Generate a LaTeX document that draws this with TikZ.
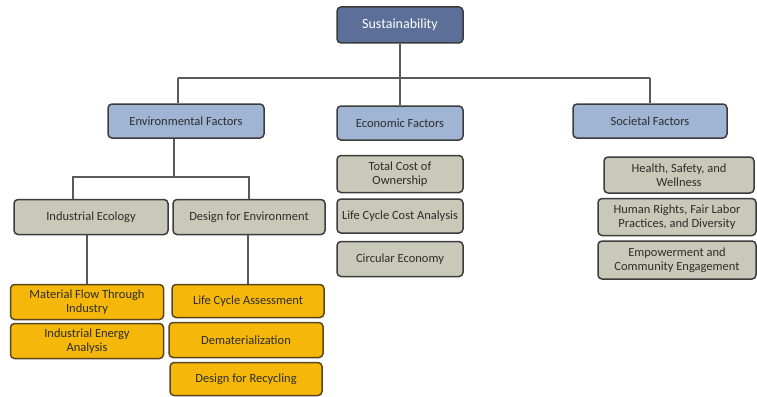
\documentclass[tikz,border=0pt]{standalone}
\usepackage{fontspec}
\setmainfont{Carlito}
\definecolor{rootfill}{RGB}{92,111,153}
\definecolor{catfill}{RGB}{160,180,212}
\definecolor{subfill}{RGB}{200,201,184}
\definecolor{leaffill}{RGB}{244,183,10}
\definecolor{boxline}{RGB}{60,60,60}
\definecolor{leafline}{RGB}{90,70,30}
\definecolor{treeline}{RGB}{90,90,90}
\definecolor{boxtext}{RGB}{45,45,45}
\begin{document}
\begin{tikzpicture}[x=1pt,y=-1pt,
  box/.style={draw=boxline,line width=1.5pt,rounded corners=4pt,align=center,
    inner sep=1pt,text=boxtext,font=\fontsize{12.5}{13.5}\selectfont},
  rootbox/.style={box,fill=rootfill,text=white,font=\fontsize{14}{16}\selectfont},
  catbox/.style={box,fill=catfill},
  subbox/.style={box,fill=subfill},
  leafbox/.style={box,fill=leaffill,draw=leafline},
  tree/.style={draw=treeline,line width=1.8pt}]
   \useasboundingbox (0,0) rectangle (757,396);
   % Top
   \node[rootbox,minimum width=126,minimum height=36] (sus) at (400,25) {Sustainability};
   % Factors
   \node[catbox,minimum width=156,minimum height=34] (env) at (186,121) {Environmental Factors};
   \node[catbox,minimum width=126,minimum height=34] (eco) at (400,123) {Economic Factors};
   \node[catbox,minimum width=154,minimum height=34] (soc) at (650,121) {Societal Factors};
   % Environmental branch
   \node[subbox,minimum width=154,minimum height=35] (ie) at (91,217) {Industrial Ecology};
   \node[subbox,minimum width=152,minimum height=35] (dfe) at (249,217) {Design for Environment};
   \node[leafbox,minimum width=153,minimum height=35] (mft) at (87,302) {Material Flow Through\\Industry};
   \node[leafbox,minimum width=153,minimum height=35] (iea) at (87,341) {Industrial Energy\\Analysis};
   \node[leafbox,minimum width=152,minimum height=33] (lca) at (248,301) {Life Cycle Assessment};
   \node[leafbox,minimum width=154,minimum height=35] (dem) at (246,340) {Dematerialization};
   \node[leafbox,minimum width=152,minimum height=33] (dfr) at (246,379) {Design for Recycling};
   % Economic branch
   \node[subbox,minimum width=126,minimum height=37] (tco) at (400,174) {Total Cost of\\Ownership};
   \node[subbox,minimum width=126,minimum height=34] (lcc) at (400,216) {Life Cycle Cost Analysis};
   \node[subbox,minimum width=126,minimum height=35] (ce) at (400,259) {Circular Economy};
   % Societal branch
   \node[subbox,minimum width=150,minimum height=36] (hsw) at (679,175) {Health, Safety, and\\Wellness};
   \node[subbox,minimum width=158,minimum height=37] (hr) at (677,217) {Human Rights, Fair Labor\\Practices, and Diversity};
   \node[subbox,minimum width=158,minimum height=38] (emp) at (677,260) {Empowerment and\\Community Engagement};
   % Connectors
   \coordinate (busL) at (178,78);
   \coordinate (busR) at (650,78);
   \draw[tree] (sus) -- (eco);
   \draw[tree] (busL) -- (busR);
   \draw[tree] (busL) -- (busL |- env.north);
   \draw[tree] (busR) -- (soc.north);
   \coordinate (envbus) at (174,177);
   \draw[tree] (envbus |- env.south) -- (envbus);
   \draw[tree] (ie.north -| 73,0) |- (envbus) -| (dfe.north);
   \draw[tree] (ie.south -| mft.north) -- (mft.north);
   \draw[tree] (dfe.south -| lca.north) -- (lca.north);
\end{tikzpicture}
\end{document}
